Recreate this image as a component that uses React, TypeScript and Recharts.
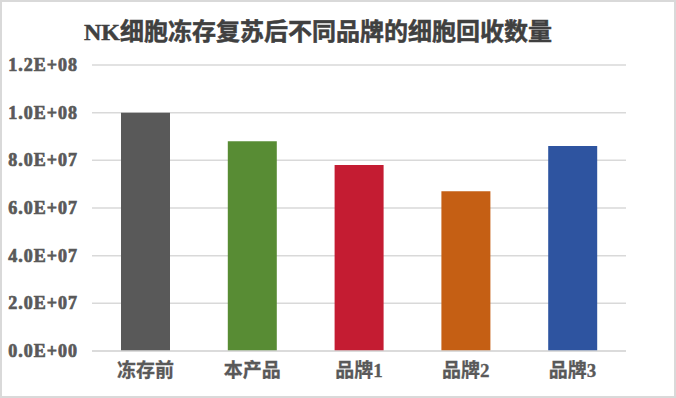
import { BarChart, Bar, XAxis, YAxis, CartesianGrid, Cell } from 'recharts';

const categories = ['冻存前', '本产品', '品牌1', '品牌2', '品牌3'];
const cellCounts = [1.0e8, 8.8e7, 7.8e7, 6.7e7, 8.6e7];
const barColors = ['#595959', '#588c34', '#c41c32', '#c55f14', '#2e54a0'];
const yTicks = [0, 2e7, 4e7, 6e7, 8e7, 1e8, 1.2e8];

const data = categories.map((name, i) => ({ name, value: cellCounts[i] }));

const FONT = '"Liberation Serif", "Noto Sans CJK SC", serif';

function fmtSci(v: number): string {
  if (v === 0) return '0.0E+00';
  const exp = Math.floor(Math.log10(v));
  const mant = v / Math.pow(10, exp);
  return `${mant.toFixed(1)}E+${String(exp).padStart(2, '0')}`;
}

// bold serif isn't always available, so thicken the glyphs with a thin stroke
const YTick = ({ x, y, payload }: any) => (
  <text x={x} y={y} dy={6} textAnchor="end" fill="#595959" stroke="#595959" strokeWidth={0.7}
    style={{ fontFamily: FONT, fontSize: 18, fontWeight: 700, letterSpacing: 1 }}>
    {fmtSci(payload.value)}
  </text>
);

const XTick = ({ x, y, payload }: any) => (
  <text x={x} y={y} dy={14} textAnchor="middle" fill="#595959" stroke="#595959" strokeWidth={0.3}
    style={{ fontFamily: FONT, fontSize: 19, fontWeight: 700 }}>
    {payload.value}
  </text>
);

export default function App() {
  return (
    <div style={{ position: 'absolute', left: 0, top: 0, width: 676, height: 398, background: '#fff' }}>
      <div style={{ position: 'absolute', left: 0, top: 0, width: 672, height: 394, border: '2px solid #d9d9d9' }} />
      <div style={{
        position: 'absolute', left: 84, top: 16, fontFamily: FONT, fontWeight: 'bold',
        fontSize: 24, color: '#404040', whiteSpace: 'nowrap', lineHeight: '32px',
        WebkitTextStroke: '0.5px #404040',
      }}>
        NK细胞冻存复苏后不同品牌的细胞回收数量
      </div>
      <BarChart width={676} height={398} data={data} margin={{ top: 65, right: 50, bottom: 0, left: 0 }}>
        <CartesianGrid horizontal vertical={false} stroke="#d9d9d9" strokeWidth={1.5} />
        <XAxis
          dataKey="name"
          height={47}
          tickSize={0}
          tickMargin={12}
          axisLine={{ stroke: '#d9d9d9', strokeWidth: 1.5 }}
          tick={<XTick />}
        />
        <YAxis
          width={92}
          domain={[0, 1.2e8]}
          ticks={yTicks}
          tickSize={0}
          tickMargin={14}
          axisLine={false}
          tick={<YTick />}
        />
        <Bar dataKey="value" barSize={49} isAnimationActive={false}>
          {data.map((d, i) => <Cell key={d.name} fill={barColors[i]} />)}
        </Bar>
      </BarChart>
    </div>
  );
}
